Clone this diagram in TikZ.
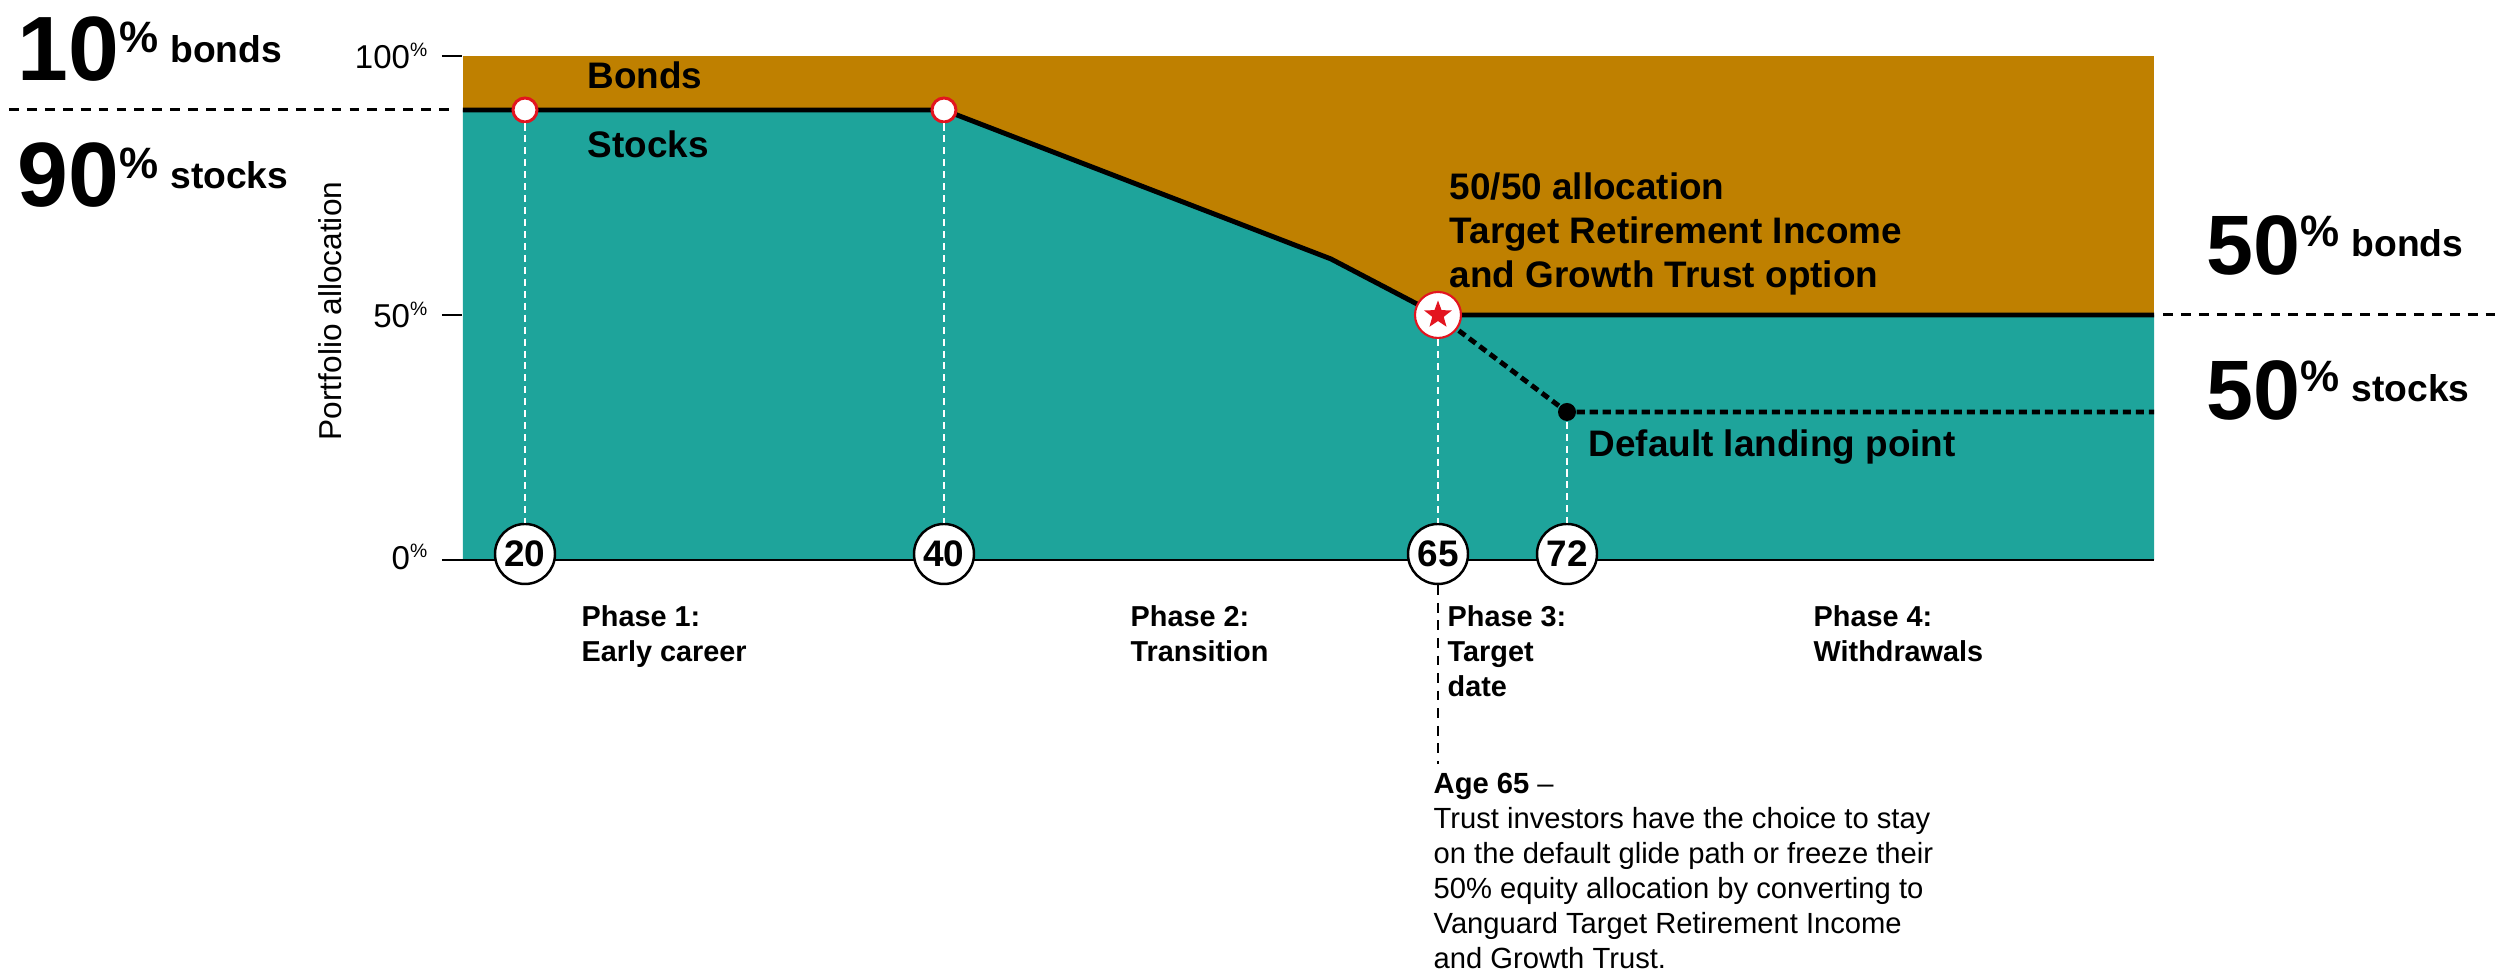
\documentclass[tikz,border=0pt]{standalone}
\usepackage{fontspec}
\setmainfont{Liberation Sans}
\usetikzlibrary{positioning,shapes.geometric}
\definecolor{bondgold}{HTML}{BF8000}
\definecolor{stockteal}{HTML}{1EA49B}
\definecolor{markred}{HTML}{E3141F}

% big share label: number size, number, asset word
\newcommand{\bigshare}[3]{{\fontsize{#1}{#1}\selectfont #2}\raisebox{0.28cm}{\fontsize{12.5}{12.5}\selectfont\%}\hspace{0.12cm}\raisebox{0.18cm}{\fontsize{10.6}{12}\selectfont #3}}
\newcommand{\axpct}[1]{#1\raisebox{0.12cm}{\fontsize{5.5}{6}\selectfont\%}}

\begin{document}
\begin{tikzpicture}[
    every node/.style={inner sep=0pt},
    agecirc/.style={circle, draw, line width=0.7pt, fill=white, minimum size=0.6cm, font=\fontsize{10.5}{12}\selectfont\bfseries},
    ringdot/.style={circle, draw=markred, line width=0.85pt, fill=white, minimum size=0.24cm},
    starring/.style={circle, draw=markred, line width=0.6pt, fill=white, minimum size=0.46cm},
    landdot/.style={circle, fill=black, minimum size=0.18cm},
    glide/.style={line width=1.4pt},
    glidedash/.style={line width=1.4pt, dash pattern=on 2.3pt off 1.4pt},
    whitedash/.style={white, line width=0.7pt, dash pattern=on 2pt off 1.4pt},
    notedash/.style={line width=0.7pt, dash pattern=on 2.8pt off 2.2pt},
    levdash/.style={line width=0.85pt, dash pattern=on 2.8pt off 2.3pt},
    lbl/.style={font=\fontsize{10.5}{12.5}\selectfont\bfseries, align=left},
    phase/.style={anchor=north west, align=left, font=\fontsize{8.2}{10}\selectfont\bfseries},
    axlbl/.style={anchor=east, font=\fontsize{9.4}{11}\selectfont}]
  \useasboundingbox (-4.63,-4.11) rectangle (20.33,5.60);

  % glide path points
  \coordinate (p0) at (0,4.50);
  \coordinate (g20) at (0.62,4.50);
  \coordinate (g40) at (4.81,4.50);
  \coordinate (bend) at (8.68,3.01);
  \coordinate (g65) at (9.75,2.45);
  \coordinate (g72) at (11.04,1.48);
  \coordinate (r50) at (16.91,2.45);
  \coordinate (r30) at (16.91,1.48);

  % bond and stock areas
  \fill[bondgold] (0,0) rectangle (16.91,5.04);
  \fill[stockteal] (0,0) -- (p0) -- (g40) -- (bend) -- (g65) -- (r50) -- (16.91,0) -- cycle;
  \draw[glide] (p0) -- (g40) -- (bend) -- (g65) -- (r50);

  % axis
  \draw[line width=0.8pt] (-0.21,0) -- (16.91,0);
  \draw[line width=0.5pt] (-0.21,5.04) -- (-0.01,5.04);
  \draw[line width=0.5pt] (-0.21,2.45) -- (-0.01,2.45);
  \node[axlbl] (t100) at (-0.35,5.04) {\axpct{100}};
  \node[axlbl] (t50) at (-0.35,2.45) {\axpct{50}};
  \node[axlbl] (t0) at (-0.35,0.03) {\axpct{0}};
  \node[rotate=90, font=\fontsize{9}{10}\selectfont] (ylab) at (-1.33,2.49) {Portfolio allocation};

  % ages
  \node[agecirc] (a20) at (0.62,0.06) {20};
  \node[agecirc] (a40) at (4.81,0.06) {40};
  \node[agecirc] (a65) at (9.75,0.06) {65};
  \node[agecirc] (a72) at (11.04,0.06) {72};

  % markers on the path
  \node[ringdot] (m20) at (g20) {};
  \node[ringdot] (m40) at (g40) {};
  \node[landdot] (d72) at (g72) {};
  \draw[glidedash] (g65) -- (d72) -- (r30);
  \node[starring] (m65) at (g65) {};
  \node[star, star points=5, star point ratio=2.4, fill=markred, minimum size=0.29cm] (s65) at (m65) {};

  \draw[whitedash] (m20) -- (a20);
  \draw[whitedash] (m40) -- (a40);
  \draw[whitedash] (m65) -- (a65);
  \draw[whitedash] (d72) -- (a72);

  % labels inside the chart
  \node[lbl, anchor=base west] (bonds) at (1.24,4.71) {Bonds};
  \node[lbl, anchor=base west] (stocks) at (1.24,4.02) {Stocks};
  \node[lbl, anchor=north west] (trust) at (9.86,3.88) {50/50 allocation\\Target Retirement Income\\and Growth Trust option};
  \node[lbl, anchor=base west] (land) at (11.25,1.03) {Default landing point};

  % phases
  \node[phase] (ph1) at (1.18,-0.45) {Phase 1:\\Early career};
  \node[phase] (ph2) at (6.67,-0.45) {Phase 2:\\Transition};
  \node[phase] (ph3) at (9.84,-0.45) {Phase 3:\\Target\\date};
  \node[phase] (ph4) at (13.50,-0.45) {Phase 4:\\Withdrawals};

  % age 65 note
  \coordinate (c65) at (9.75,-2.04);
  \draw[notedash] (a65) -- (c65);
  \node[anchor=north west, align=left, font=\fontsize{8.3}{9.96}\selectfont] (note) at (9.70,-2.12) {\textbf{Age 65} --\\Trust investors have the choice to stay\\on the default glide path or freeze their\\50\% equity allocation by converting to\\Vanguard Target Retirement Income\\and Growth Trust.};

  % start and end shares
  \coordinate (lq0) at (-4.54,4.50);
  \coordinate (lq1) at (-0.14,4.50);
  \coordinate (rq0) at (17.00,2.45);
  \coordinate (rq1) at (20.33,2.45);
  \draw[levdash] (lq0) -- (lq1);
  \draw[levdash] (rq0) -- (rq1);
  \node[anchor=base west, font=\bfseries] (start10) at (-4.46,4.79) {\bigshare{26}{10}{bonds}};
  \node[anchor=base west, font=\bfseries] (start90) at (-4.46,3.53) {\bigshare{26}{90}{stocks}};
  \node[anchor=base west, font=\bfseries] (end50b) at (17.43,2.85) {\bigshare{24}{50}{bonds}};
  \node[anchor=base west, font=\bfseries] (end50s) at (17.43,1.40) {\bigshare{24}{50}{stocks}};
\end{tikzpicture}
\end{document}
